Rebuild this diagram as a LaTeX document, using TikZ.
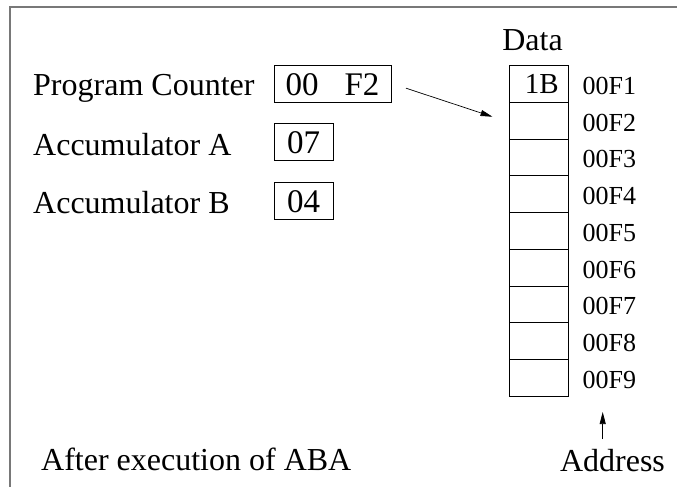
\documentclass[tikz,border=0pt]{standalone}
\usepackage{fontspec}
\setmainfont{Liberation Serif}
\usetikzlibrary{arrows.meta, positioning}
\definecolor{framegray}{RGB}{120,120,120}

\begin{document}
\begin{tikzpicture}[x=1pt, y=-1pt,
    txt/.style={font=\fontsize{32}{36}\selectfont, inner sep=0pt},
    addrtxt/.style={font=\fontsize{26}{30}\selectfont, inner sep=0pt},
    regbox/.style={draw, line width=0.8pt, minimum height=37pt, inner sep=0pt, outer sep=0pt, font=\fontsize{33}{36}\selectfont},
    cell/.style={draw, line width=0.8pt, minimum width=58.5pt, minimum height=36.7pt, inner sep=0pt, outer sep=0pt},
    arr/.style={-{Triangle[length=12pt,width=6pt]}, line width=0.7pt}]
\useasboundingbox (0,0) rectangle (677,487);
\draw[framegray, line width=1.4pt] (10,487) -- (10,7) -- (677,7);

% registers
\node[txt, anchor=base west] (pclabel) at (33,95) {Program Counter};
\node[txt, anchor=base west] (accalabel) at (33,155) {Accumulator A};
\node[txt, anchor=base west] (accblabel) at (33,213) {Accumulator B};
\node[regbox, minimum width=117pt] (pc) at (332.5,84.2) {00\hspace{26pt}F2};
\node[regbox, minimum width=59pt] (acca) at (303.5,142.3) {07};
\node[regbox, minimum width=59pt] (accb) at (303.5,201.3) {04};

% memory
\node[txt, anchor=base] (data) at (532.5,50.5) {Data};
\node[cell, font=\fontsize{29}{32}\selectfont, text width=40pt, align=right, inner xsep=9.25pt] (m1) at (538.75,84.05) {1B};
\foreach \i [remember=\i as \prev (initially 1)] in {2,...,9}
    \node[cell, below=0pt of m\prev] (m\i) {};
\foreach \i in {1,...,9}
    \node[addrtxt, right=14.5pt of m\i, yshift=-2pt] (a\i) {00F\i};

\draw[arr] ([xshift=15pt,yshift=-4pt]pc.east) -- ([xshift=-17pt,yshift=4pt]m2.west);

% bottom line
\node[txt, anchor=base west] (caption) at (41,470) {After execution of ABA};
\node[txt, anchor=base] (addr) at (612.5,471.5) {Address};
\coordinate (addrtip) at (602.7,412);
\draw[arr] ([xshift=-9.8pt,yshift=10pt]addr.north) -- (addrtip);
\end{tikzpicture}
\end{document}
